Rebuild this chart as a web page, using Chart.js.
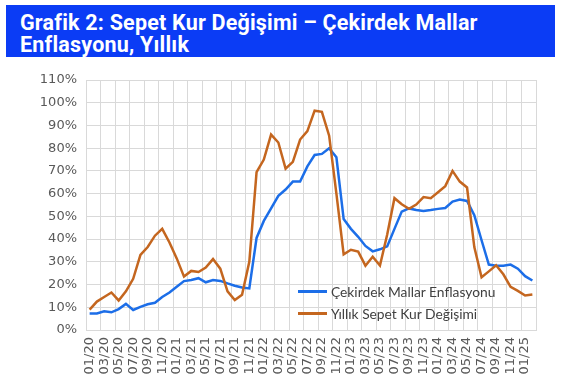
<!DOCTYPE html>
<html>
<head>
<meta charset="utf-8">
<script src="https://cdn.jsdelivr.net/npm/chart.js@4.4.1/dist/chart.umd.min.js"></script>
<style>
  body { margin: 0; width: 561px; height: 387px; background: #fff; overflow: hidden; position: relative; }
  #band { position: absolute; left: 6px; top: 5px; width: 549px; height: 52px; background: #0b3cf5; }
  #band div { position: absolute; left: 14px; color: #fff; font: bold 21.5px Roboto; white-space: nowrap; line-height: 22px; letter-spacing: 0.2px; }
  canvas { position: absolute; left: 0; top: 0; }
  #legend { position: absolute; left: 298px; top: 280px; font: 13.8px Lato; color: #404040; }
  #legend .row { height: 22px; display: flex; align-items: center; }
  #legend .swatch { width: 29px; height: 3px; margin-right: 4px; }
</style>
</head>
<body>
<canvas id="chart" width="561" height="387"></canvas>
<div id="band">
  <div style="top:7px">Grafik 2: Sepet Kur Değişimi – Çekirdek Mallar</div>
  <div style="top:29px">Enflasyonu, Yıllık</div>
</div>
<div id="legend"></div>
<script>
const months = [
  '01/20','02/20','03/20','04/20','05/20','06/20','07/20','08/20','09/20','10/20','11/20','12/20',
  '01/21','02/21','03/21','04/21','05/21','06/21','07/21','08/21','09/21','10/21','11/21','12/21',
  '01/22','02/22','03/22','04/22','05/22','06/22','07/22','08/22','09/22','10/22','11/22','12/22',
  '01/23','02/23','03/23','04/23','05/23','06/23','07/23','08/23','09/23','10/23','11/23','12/23',
  '01/24','02/24','03/24','04/24','05/24','06/24','07/24','08/24','09/24','10/24','11/24','12/24',
  '01/25','02/25'
];

// Çekirdek mallar enflasyonu, yıllık %
const coreGoods = [
  7.3, 7.3, 8.2, 7.8, 9.2, 11.5, 8.8, 10.2, 11.3, 12, 14.5, 16.5,
  19, 21.5, 22, 22.8, 21, 22, 21.6, 20.5, 19.5, 18.7, 18.3, 40.5,
  48, 53.5, 59, 61.8, 65.3, 65.3, 72, 77, 77.5, 80, 76, 48.8,
  44.5, 41, 37, 34.6, 35.5, 36.8, 44.5, 52.1, 53.5, 52.8, 52.4, 52.8,
  53.3, 53.7, 56.5, 57.4, 56.8, 50.5, 39.5, 28.8, 28.3, 28.3, 28.8, 27,
  23.7, 21.8
];

// Yıllık sepet kur değişimi %
const basketFx = [
  9, 12.5, 14.5, 16.5, 13, 17, 22.5, 33, 36.5, 41.5, 44.5, 38.5,
  31.5, 23.5, 26, 25.5, 27.5, 31.2, 27, 17, 13.2, 15.5, 30, 69.5,
  75, 86, 82.5, 71, 74, 83.8, 87.5, 96.5, 96, 85.5, 60, 33.3,
  35.3, 34.5, 28.3, 32.2, 28.4, 42, 58, 55.3, 53.3, 55.2, 58.5, 58,
  60.6, 63.3, 70, 65.3, 62.7, 36.5, 23.2, 25.8, 28.5, 24.5, 19, 17.2,
  15.2, 15.6
];

const BLUE = '#1c6ee8';
const ORANGE = '#c4661f';
const GRID = '#d9d9d9';
const TICK = '#595959';

const chart = new Chart(document.getElementById('chart'), {
  type: 'line',
  data: {
    labels: months,
    datasets: [
      { label: 'Çekirdek Mallar Enflasyonu', data: coreGoods, borderColor: BLUE, borderWidth: 2.5, pointRadius: 0, order: 1 },
      { label: 'Yıllık Sepet Kur Değişimi', data: basketFx, borderColor: ORANGE, borderWidth: 2.5, pointRadius: 0, order: 0 },
    ],
  },
  options: {
    responsive: false,
    animation: false,
    devicePixelRatio: 1,
    layout: { padding: { top: 80, right: 25, left: 0, bottom: 0 } },
    plugins: { legend: { display: false }, tooltip: { enabled: false } },
    scales: {
      x: {
        offset: true,
        grid: {
          offset: true,
          drawTicks: false,
          color: c => (c.index === undefined || c.index % 2 === 0) ? GRID : 'rgba(0,0,0,0)',
        },
        border: { color: GRID },
        ticks: {
          autoSkip: false,
          minRotation: 90,
          maxRotation: 90,
          padding: 7,
          color: TICK,
          font: { family: 'DejaVu Sans', size: 13 },
          callback(v, i) { return i % 2 === 0 ? this.getLabelForValue(v) : ''; },
        },
        afterFit: s => { s.height = 57; },
      },
      y: {
        min: 0,
        max: 110,
        grid: { color: GRID, drawTicks: false },
        border: { color: GRID },
        ticks: {
          stepSize: 10,
          padding: 9,
          color: TICK,
          font: { family: 'DejaVu Sans', size: 13 },
          callback: v => v + '%',
        },
        afterFit: s => { s.width = 86; },
      },
    },
  },
});

document.getElementById('legend').innerHTML = chart.data.datasets
  .map(d => `<div class="row"><span class="swatch" style="background:${d.borderColor}"></span>${d.label}</div>`)
  .join('');
</script>
</body>
</html>
